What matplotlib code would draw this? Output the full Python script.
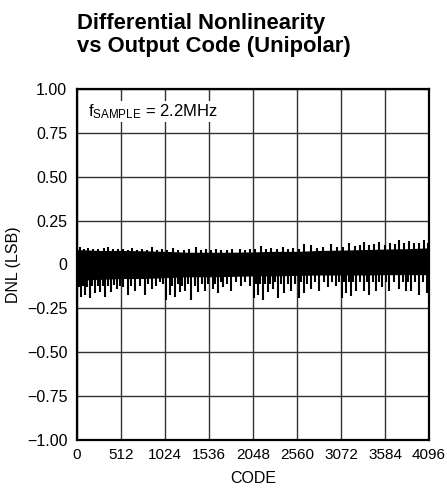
import numpy as np
import matplotlib
matplotlib.use("Agg")
import matplotlib.pyplot as plt

# ---------------------------------------------------------------
#  DNL vs output code (unipolar)
# ---------------------------------------------------------------

# faixa densa (borda superior / inferior) a cada 256 codigos
code_env = [0, 256, 512, 768, 1024, 1280, 1536, 1792, 2048,
            2304, 2560, 2816, 3072, 3328, 3584, 3840, 4096]
dnl_hi = [0.085, 0.08, 0.08, 0.078, 0.075, 0.07, 0.07, 0.07, 0.072,
          0.075, 0.075, 0.08, 0.082, 0.085, 0.088, 0.09, 0.095]
dnl_lo = [-0.09, -0.085, -0.08, -0.08, -0.075, -0.07, -0.07, -0.068, -0.065,
          -0.065, -0.062, -0.06, -0.06, -0.06, -0.058, -0.058, -0.058]

# picos negativos
code_dn = [0, 24, 47, 70, 93, 120, 151, 180, 210, 240,
           268, 298, 326, 360, 396, 430, 462, 500, 540, 594,
           630, 675, 730, 792, 830, 870, 920, 966, 1000, 1036,
           1079, 1110, 1137, 1170, 1195, 1225, 1253, 1290, 1327, 1370,
           1408, 1450, 1486, 1530, 1583, 1610, 1641, 1670, 1699, 1750,
           1792, 1850, 1909, 1960, 2010, 2056, 2080, 2103, 2130, 2161,
           2190, 2219, 2250, 2277, 2305, 2336, 2370, 2409, 2450, 2490,
           2540, 2584, 2610, 2642, 2680, 2723, 2770, 2817, 2870, 2918,
           2970, 3015, 3050, 3081, 3105, 3131, 3160, 3185, 3215, 3244,
           3290, 3340, 3370, 3399, 3440, 3477, 3515, 3550, 3590, 3631,
           3690, 3748, 3790, 3826, 3855, 3884, 3930, 3981, 4030, 4074]
dnl_dn = [-0.21, -0.13, -0.185, -0.12, -0.175, -0.13, -0.19, -0.12, -0.165, -0.12,
          -0.155, -0.12, -0.185, -0.12, -0.155, -0.115, -0.14, -0.12, -0.13, -0.175,
          -0.12, -0.15, -0.12, -0.175, -0.11, -0.14, -0.12, -0.10, -0.11, -0.20,
          -0.175, -0.12, -0.185, -0.11, -0.155, -0.12, -0.15, -0.11, -0.20, -0.12,
          -0.155, -0.11, -0.15, -0.11, -0.14, -0.11, -0.165, -0.10, -0.13, -0.11,
          -0.15, -0.10, -0.125, -0.10, -0.125, -0.19, -0.11, -0.175, -0.11, -0.20,
          -0.11, -0.155, -0.11, -0.14, -0.10, -0.19, -0.11, -0.165, -0.11, -0.15,
          -0.11, -0.19, -0.10, -0.165, -0.11, -0.14, -0.10, -0.15, -0.10, -0.13,
          -0.10, -0.12, -0.10, -0.19, -0.10, -0.165, -0.10, -0.18, -0.10, -0.15,
          -0.10, -0.15, -0.10, -0.175, -0.10, -0.15, -0.10, -0.13, -0.10, -0.15,
          -0.10, -0.14, -0.10, -0.15, -0.10, -0.15, -0.10, -0.175, -0.10, -0.16]

# picos positivos
code_up = [0, 35, 80, 130, 190, 250, 310, 361, 420, 480,
           540, 590, 636, 700, 760, 820, 870, 930, 990, 1050,
           1118, 1180, 1240, 1300, 1385, 1440, 1500, 1560, 1620, 1680,
           1740, 1800, 1893, 1950, 2010, 2070, 2142, 2200, 2260, 2330,
           2394, 2450, 2510, 2580, 2642, 2723, 2790, 2860, 2956, 3020,
           3090, 3162, 3230, 3290, 3340, 3400, 3460, 3515, 3580, 3640,
           3700, 3748, 3810, 3865, 3920, 3980, 4039, 4080]
dnl_up = [0.09, 0.10, 0.09, 0.095, 0.09, 0.09, 0.095, 0.10, 0.09, 0.09,
          0.09, 0.085, 0.095, 0.085, 0.09, 0.085, 0.10, 0.085, 0.09, 0.085,
          0.093, 0.085, 0.085, 0.09, 0.097, 0.085, 0.09, 0.085, 0.09, 0.085,
          0.085, 0.09, 0.09, 0.085, 0.09, 0.09, 0.105, 0.09, 0.095, 0.09,
          0.10, 0.09, 0.095, 0.09, 0.115, 0.11, 0.095, 0.10, 0.115, 0.10,
          0.10, 0.12, 0.105, 0.11, 0.13, 0.11, 0.115, 0.13, 0.11, 0.12,
          0.115, 0.14, 0.12, 0.135, 0.12, 0.125, 0.14, 0.12]

x_ticks = [0, 512, 1024, 1536, 2048, 2560, 3072, 3584, 4096]
y_ticks = [-1.0, -0.75, -0.5, -0.25, 0, 0.25, 0.5, 0.75, 1.0]
y_labels = ["\u22121.00", "\u22120.75", "\u22120.50", "\u22120.25", "0",
            "0.25", "0.50", "0.75", "1.00"]

plt.rcParams['font.family'] = ['Liberation Sans', 'DejaVu Sans']
plt.rcParams['mathtext.fontset'] = 'custom'
plt.rcParams['mathtext.rm'] = 'Liberation Sans'

fig = plt.figure(figsize=(4.47, 4.93), dpi=100)
ax = fig.add_axes([77 / 447, 1 - 440 / 493, 352 / 447, 351 / 493])

# faixa densa + picos
ax.fill_between(code_env, dnl_lo, dnl_hi, color='black', linewidth=0, zorder=3)
ax.vlines(code_dn, 0, dnl_dn, color='black', linewidth=1.5, zorder=3)
ax.vlines(code_up, 0, dnl_up, color='black', linewidth=1.5, zorder=3)

ax.set_xlim(0, 4096)
ax.set_ylim(-1, 1)
ax.set_xticks(x_ticks)
ax.set_xticklabels([str(v) for v in x_ticks])
ax.set_yticks(y_ticks)
ax.set_yticklabels(y_labels)
ax.tick_params(length=0, labelsize=11.5, pad=7)
ax.tick_params(axis='x', labelsize=11, pad=6)
ax.grid(True, color='#333333', linewidth=1.0)
for s in ax.spines.values():
    s.set_linewidth(1.6)

ax.set_xlabel("CODE", fontsize=11.5, labelpad=6)
ax.set_ylabel("DNL (LSB)", fontsize=11.5, labelpad=4)

ax.text(0.03, 0.935, r"$\mathrm{f_{SAMPLE}}$ = 2.2MHz", transform=ax.transAxes,
        fontsize=12, va='center', ha='left',
        bbox=dict(facecolor='white', edgecolor='none', pad=1))

fig.text(77 / 447, 1 - 13 / 493, "Differential Nonlinearity\nvs Output Code (Unipolar)",
         fontsize=15.8, fontweight='bold', ha='left', va='top', linespacing=1.1)

plt.savefig("out.png", dpi=100)
